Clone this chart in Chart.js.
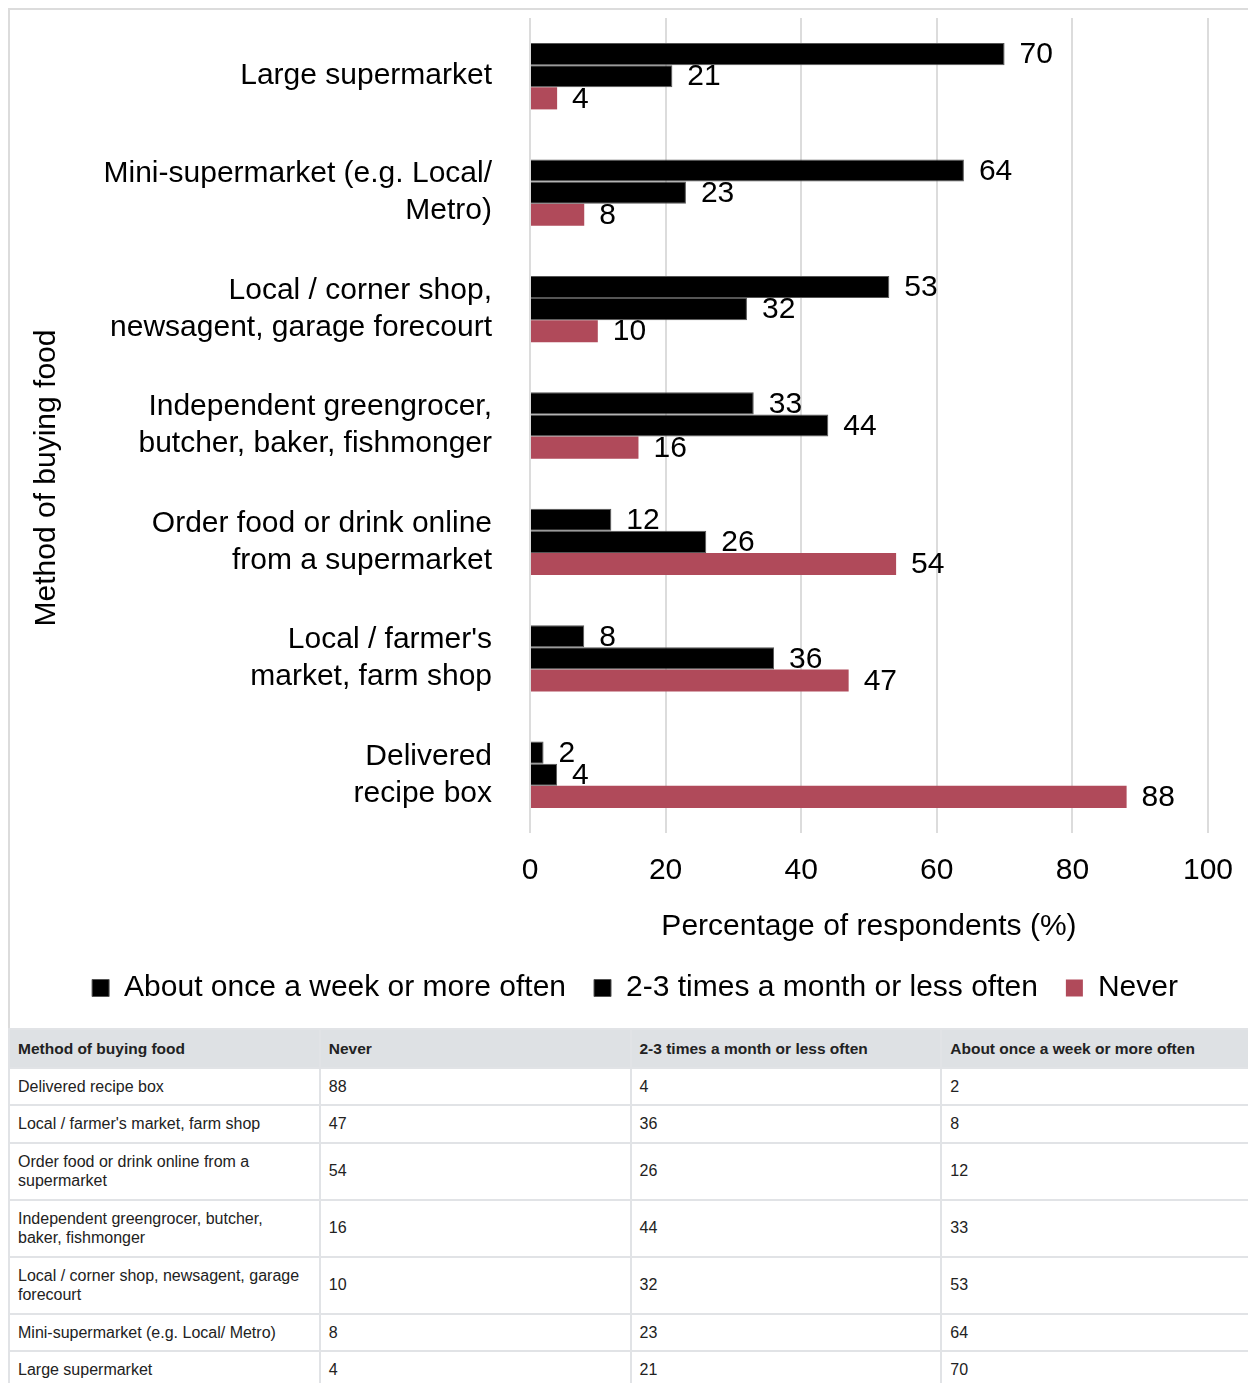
<!DOCTYPE html>
<html>
<head>
<meta charset="utf-8">
<script src="https://cdn.jsdelivr.net/npm/chart.js@4"></script>
<style>
  body { margin: 0; background: #fff; overflow: hidden; font-family: "Liberation Sans", Arial, sans-serif; color: #222; }
  #wrap { margin: 8px 0 0 8px; width: 1245px; }
  #chartBox { position: relative; height: 1018px; border-top: 2px solid #dcdcdc; border-left: 2px solid #dcdcdc; }
  table { border-collapse: collapse; width: 1245px; table-layout: fixed; font-size: 16px; }
  th, td { border: 2px solid #e1e3e6; padding: 8px 14px 8px 8px; text-align: left; line-height: 19.5px; vertical-align: middle; }
  th { background: #dee1e4; font-weight: bold; font-size: 15.5px; padding-top: 8.5px; padding-bottom: 8.5px; }
</style>
</head>
<body>
<div id="wrap">
  <div id="chartBox"><canvas id="chart"></canvas></div>
  <table id="dataTable"></table>
</div>
<script>
// methods, top to bottom as drawn
var categories = [
  'Large supermarket',
  'Mini-supermarket (e.g. Local/ Metro)',
  'Local / corner shop, newsagent, garage forecourt',
  'Independent greengrocer, butcher, baker, fishmonger',
  'Order food or drink online from a supermarket',
  "Local / farmer's market, farm shop",
  'Delivered recipe box'
];
var tickLines = [
  ['Large supermarket'],
  ['Mini-supermarket (e.g. Local/', 'Metro)'],
  ['Local / corner shop,', 'newsagent, garage forecourt'],
  ['Independent greengrocer,', 'butcher, baker, fishmonger'],
  ['Order food or drink online', 'from a supermarket'],
  ["Local / farmer's", 'market, farm shop'],
  ['Delivered', 'recipe box']
];
var weekly = [70, 64, 53, 33, 12, 8, 2];
var monthly = [21, 23, 32, 44, 26, 36, 4];
var never = [4, 8, 10, 16, 54, 47, 88];
var xTicks = [0, 20, 40, 60, 80, 100];

var FONT = '"Liberation Sans", Arial, sans-serif';
Chart.defaults.font.family = FONT;
Chart.defaults.color = '#000';

// value labels at the end of each bar
var valueLabels = {
  id: 'valueLabels',
  afterDatasetsDraw: function(chart) {
    var ctx = chart.ctx;
    ctx.save();
    ctx.font = '30px ' + FONT;
    ctx.fillStyle = '#000';
    ctx.textBaseline = 'middle';
    ctx.textAlign = 'left';
    chart.data.datasets.forEach(function(ds, i) {
      chart.getDatasetMeta(i).data.forEach(function(bar, j) {
        ctx.fillText(ds.data[j], bar.x + 15, bar.y + 1);
      });
    });
    ctx.restore();
  }
};

// rotated y title
var yTitle = {
  id: 'yTitle',
  afterDraw: function(chart) {
    var ctx = chart.ctx;
    var cy = chart.chartArea.top + 460;
    ctx.save();
    ctx.translate(37, cy);
    ctx.rotate(-Math.PI / 2);
    ctx.font = '30px ' + FONT;
    ctx.fillStyle = '#000';
    ctx.textAlign = 'center';
    ctx.textBaseline = 'middle';
    ctx.fillText('Method of buying food', 0, 0);
    ctx.restore();
  }
};

// legend sits centred on the full width, not the padded box
var legendShift = {
  id: 'legendShift',
  afterLayout: function(chart) {
    chart.legend.left += 24;
    chart.legend.right += 24;
  }
};

var ctx = document.getElementById('chart').getContext('2d');
var foodChart = new Chart(ctx, {
  type: 'bar',
  data: {
    labels: categories,
    datasets: [{
      label: 'About once a week or more often',
      data: weekly,
      backgroundColor: '#000',
      borderColor: '#555',
      borderWidth: 1
    }, {
      label: '2-3 times a month or less often',
      data: monthly,
      backgroundColor: '#000',
      borderColor: '#555',
      borderWidth: 1
    }, {
      label: 'Never',
      data: never,
      backgroundColor: '#b04a5a'
    }]
  },
  options: {
    indexAxis: 'y',
    responsive: true,
    maintainAspectRatio: false,
    animation: false,
    layout: { padding: { top: 8, right: 41, bottom: 15, left: 0 } },
    datasets: { bar: { categoryPercentage: 0.57, barPercentage: 1 } },
    scales: {
      x: {
        min: 0,
        max: 100,
        afterBuildTicks: function(scale) {
          scale.ticks = xTicks.map(function(v) { return { value: v }; });
        },
        grid: { color: '#dcdcdc', lineWidth: 2, drawTicks: false },
        border: { display: false },
        ticks: { padding: 20, font: { size: 30 }, color: '#000' },
        title: {
          display: true,
          text: 'Percentage of respondents (%)',
          font: { size: 30 },
          color: '#000',
          padding: { top: 0, bottom: 0 }
        }
      },
      y: {
        afterFit: function(scale) {
          scale.width = 520;
          scale.paddingTop = 0;
          scale.paddingBottom = 0;
        },
        grid: { display: false },
        border: { display: false },
        ticks: {
          padding: 30,
          font: { size: 30, lineHeight: 1.23 },
          color: '#000',
          callback: function(v, i) { return tickLines[i]; }
        }
      }
    },
    plugins: {
      legend: {
        position: 'bottom',
        labels: {
          font: { size: 30 },
          color: '#000',
          boxWidth: 17,
          boxHeight: 17,
          padding: 28
        }
      },
      tooltip: { enabled: false }
    }
  },
  plugins: [valueLabels, yTitle, legendShift]
});

// data table, bottom category first
var table = document.getElementById('dataTable');
var html = '<tr><th>Method of buying food</th><th>Never</th><th>2-3 times a month or less often</th><th>About once a week or more often</th></tr>';
for (var i = categories.length - 1; i >= 0; i--) {
  html += '<tr><td>' + categories[i] + '</td><td>' + never[i] + '</td><td>' + monthly[i] + '</td><td>' + weekly[i] + '</td></tr>';
}
table.innerHTML = html;
</script>
</body>
</html>
